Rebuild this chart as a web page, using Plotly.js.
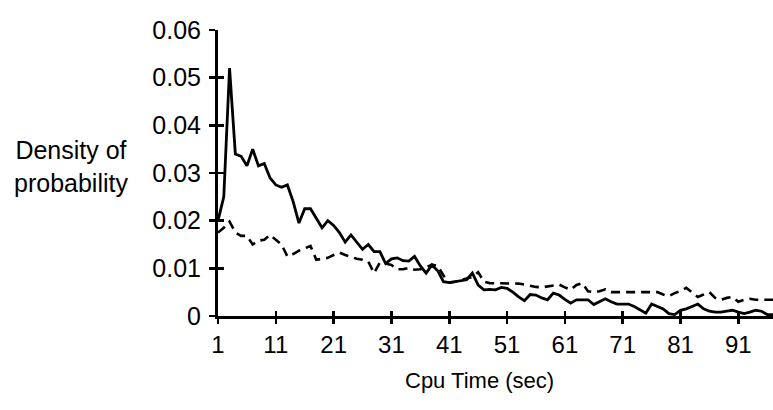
<!DOCTYPE html>
<html>
<head>
<meta charset="utf-8">
<script src="https://cdn.plot.ly/plotly-3.0.1.min.js"></script>
<style>html,body{margin:0;padding:0;background:#fff;}#chart{width:773px;height:410px;}</style>
</head>
<body>
<div id="chart"></div>
<script>
// CPU time categories (seconds)
var cpuTime = [];
for (var k = 1; k <= 97; k++) cpuTime.push(k);

// Solid series: density of probability
var solidSeries = [
  0.020, 0.025, 0.052, 0.034, 0.0335, 0.0315, 0.035, 0.0315, 0.032, 0.029,
  0.0275, 0.027, 0.0275, 0.024, 0.0195, 0.0225, 0.0225, 0.0205, 0.0185, 0.020,
  0.019, 0.0175, 0.0155, 0.017, 0.0155, 0.014, 0.015, 0.0135, 0.0135, 0.011,
  0.012, 0.0122, 0.0116, 0.0115, 0.0125, 0.0105, 0.009, 0.0107, 0.0095, 0.0072,
  0.007, 0.0072, 0.0074, 0.0076, 0.009, 0.0065, 0.0055, 0.0056, 0.0055, 0.006,
  0.0058, 0.005, 0.004, 0.0032, 0.0045, 0.0044, 0.0038, 0.0034, 0.0048, 0.0044,
  0.0035, 0.0027, 0.0034, 0.0034, 0.0034, 0.0024, 0.003, 0.0036, 0.003, 0.0025,
  0.0025, 0.0025, 0.002, 0.0013, 0.0006, 0.0025, 0.002, 0.0015, 0.0005, 0.0003,
  0.0012, 0.0015, 0.002, 0.0025, 0.0015, 0.001, 0.0008, 0.0008, 0.001, 0.0012,
  0.0008, 0.0005, 0.0008, 0.0012, 0.001, 0.0003, 0.0003
];

// Dashed series: density of probability
var dashedSeries = [
  0.0175, 0.0185, 0.0198, 0.0175, 0.0168, 0.0168, 0.015, 0.0158, 0.016, 0.017,
  0.016, 0.015, 0.0125, 0.013, 0.0137, 0.0142, 0.0147, 0.0118, 0.012, 0.0122,
  0.0128, 0.0133, 0.0128, 0.0124, 0.012, 0.0118, 0.0114, 0.009, 0.0112, 0.011,
  0.0107, 0.0098, 0.0098, 0.0101, 0.0097, 0.0098, 0.0102, 0.0108, 0.0105, 0.0085,
  0.007, 0.0072, 0.0075, 0.0078, 0.0082, 0.0092, 0.0072, 0.0069, 0.0069, 0.0068,
  0.0068, 0.0068, 0.0068, 0.0066, 0.0063, 0.0061, 0.006, 0.0062, 0.0065, 0.0066,
  0.006, 0.0055, 0.0065, 0.0069, 0.0052, 0.005, 0.0052, 0.0056, 0.005, 0.005,
  0.005, 0.005, 0.005, 0.005, 0.005, 0.005, 0.005, 0.0045, 0.0042, 0.0048,
  0.0052, 0.0059, 0.005, 0.004, 0.0045, 0.005, 0.0038, 0.0034, 0.0038, 0.004,
  0.003, 0.0034, 0.0036, 0.0034, 0.0034, 0.0034, 0.0034
];

var xTickVals = [1, 11, 21, 31, 41, 51, 61, 71, 81, 91];
var xTickText = ['1', '11', '21', '31', '41', '51', '61', '71', '81', '91'];
var yTickVals = [0, 0.01, 0.02, 0.03, 0.04, 0.05, 0.06];
var yTickText = ['0', '0.01', '0.02', '0.03', '0.04', '0.05', '0.06'];

var FONT = 'Liberation Sans, Arial, sans-serif';

var traces = [
  {x: cpuTime, y: dashedSeries, type: 'scatter', mode: 'lines',
   line: {color: '#000', width: 2.6, dash: '9px,6px'}, hoverinfo: 'skip'},
  {x: cpuTime, y: solidSeries, type: 'scatter', mode: 'lines',
   line: {color: '#000', width: 2.8}, hoverinfo: 'skip'},
  {x: [null], y: [null], xaxis: 'x2', yaxis: 'y2', type: 'scatter', mode: 'lines',
   showlegend: false, hoverinfo: 'skip'}
];

var xRange = [1, 97];
var yRange = [0, 0.06];

var layout = {
  width: 773, height: 410,
  margin: {l: 218, r: 0, t: 30, b: 94},
  paper_bgcolor: '#fff', plot_bgcolor: '#fff',
  showlegend: false,
  font: {family: FONT, size: 24, color: '#000'},
  xaxis: {
    range: xRange, tickmode: 'array', tickvals: xTickVals, ticktext: xTickText,
    showgrid: false, zeroline: false, showline: true, linecolor: '#000', linewidth: 3,
    ticks: 'outside', ticklen: 5, tickwidth: 2.5, tickcolor: '#000',
    tickfont: {family: FONT, size: 24, color: '#000'}, ticklabelstandoff: 0
  },
  yaxis: {
    range: yRange, tickmode: 'array', tickvals: yTickVals, ticktext: yTickText,
    showgrid: false, zeroline: false, showline: true, linecolor: '#000', linewidth: 3,
    ticks: 'outside', ticklen: 6, tickwidth: 2.5, tickcolor: '#000',
    tickfont: {family: FONT, size: 25, color: '#000'}, ticklabelstandoff: 3
  },
  xaxis2: {
    overlaying: 'x', anchor: 'y2', range: xRange, tickmode: 'array', tickvals: xTickVals,
    showticklabels: false, showgrid: false, zeroline: false, showline: false,
    ticks: 'inside', ticklen: 5, tickwidth: 2.5, tickcolor: '#000'
  },
  yaxis2: {
    overlaying: 'y', anchor: 'x2', range: yRange, tickmode: 'array', tickvals: yTickVals,
    showticklabels: false, showgrid: false, zeroline: false, showline: false,
    ticks: 'inside', ticklen: 6, tickwidth: 2.5, tickcolor: '#000'
  },
  annotations: [
    {text: 'Density of<br>probability', xref: 'paper', yref: 'paper',
     x: -0.264, y: 0.521, xanchor: 'center', yanchor: 'middle', showarrow: false,
     align: 'center', font: {family: FONT, size: 25, color: '#000'}},
    {text: 'Cpu Time (sec)', xref: 'paper', yref: 'paper',
     x: 0.472, y: -0.224, xanchor: 'center', yanchor: 'middle', showarrow: false,
     font: {family: FONT, size: 22, color: '#000'}}
  ]
};

Plotly.newPlot('chart', traces, layout, {displayModeBar: false, staticPlot: true});
</script>
</body>
</html>
